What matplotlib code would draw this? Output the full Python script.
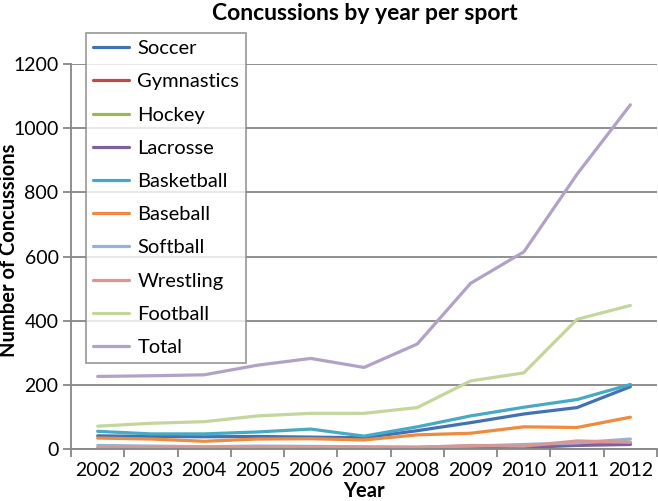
import matplotlib
matplotlib.use("Agg")
import matplotlib.pyplot as plt
import numpy as np

plt.rcParams['font.family'] = ['Lato', 'DejaVu Sans']

years = ['2002', '2003', '2004', '2005', '2006', '2007', '2008', '2009', '2010', '2011', '2012']
soccer = [42, 40, 39, 40, 38, 36, 58, 83, 110, 130, 195]
gymnastics = [1, 1, 2, 2, 2, 3, 3, 9, 6, 20, 18]
hockey = [2, 2, 4, 3, 5, 5, 4, 4, 6, 14, 21]
lacrosse = [1, 1, 1, 2, 3, 3, 3, 5, 6, 12, 15]
basketball = [56, 48, 48, 54, 63, 41, 70, 104, 131, 155, 202]
baseball = [35, 32, 25, 32, 33, 29, 45, 50, 70, 68, 100]
softball = [12, 10, 8, 10, 9, 8, 7, 10, 15, 20, 32]
wrestling = [5, 5, 6, 6, 7, 6, 6, 12, 10, 26, 22]
football = [72, 81, 86, 104, 112, 112, 130, 213, 238, 405, 448]
total = [227, 229, 232, 262, 283, 255, 328, 517, 615, 857, 1073]

series = [
    ('Soccer', soccer, '#4272B3'),
    ('Gymnastics', gymnastics, '#BE4B48'),
    ('Hockey', hockey, '#98B954'),
    ('Lacrosse', lacrosse, '#7D60A0'),
    ('Basketball', basketball, '#46AAC5'),
    ('Baseball', baseball, '#F08A3C'),
    ('Softball', softball, '#95B3D7'),
    ('Wrestling', wrestling, '#D99694'),
    ('Football', football, '#C3D69B'),
    ('Total', total, '#B3A2C7'),
]

fig = plt.figure(figsize=(6.58, 5.01), dpi=100)
ax = fig.add_axes([0.108, 0.1032, 0.8905, 0.7690])

x = np.arange(len(years))
for name, vals, col in series:
    ax.plot(x, vals, color=col, lw=2.3, label=name, solid_capstyle='round')

ax.set_xlim(-0.5, len(years) - 0.5)
ax.set_ylim(0, 1200)
ax.set_yticks(np.arange(0, 1201, 200))
ax.yaxis.grid(True, color='#878787', lw=1.3)
ax.set_axisbelow(True)

ax.set_xticks(x)
ax.set_xticklabels(years)
ax.set_xticks(np.arange(-0.5, len(years)), minor=True)
ax.tick_params(axis='x', which='major', length=0, pad=9, labelsize=14)
ax.tick_params(axis='x', which='minor', length=6, width=1.3, color='#878787')
ax.tick_params(axis='y', length=6, width=1.3, color='#878787', labelsize=14, pad=3)

for s in ['top', 'right']:
    ax.spines[s].set_visible(False)
for s in ['left', 'bottom']:
    ax.spines[s].set_color('#878787')
    ax.spines[s].set_linewidth(1.3)

ax.set_xlabel('Year', fontsize=14.5, fontweight='bold', labelpad=1.5)
ax.set_ylabel('Number of Concussions', fontsize=14.5, fontweight='bold', va='center')
ax.yaxis.set_label_coords((9 - 71) / 586, (449.3 - 250) / 385.3)
fig.suptitle('Concussions by year per sport', x=0.555, y=0.995, fontsize=16.5, fontweight='bold', va='top')

leg = ax.legend(loc='upper left', bbox_to_anchor=(86 / 658, 1 - 33 / 501),
                bbox_transform=fig.transFigure, fontsize=14.5, frameon=True,
                fancybox=False, edgecolor='#878787', handlelength=1.8,
                labelspacing=0.80, borderpad=0.35, handletextpad=0.4, borderaxespad=0)
leg.get_frame().set_linewidth(1.3)

fig.savefig('out.png', dpi=100, facecolor='white')
